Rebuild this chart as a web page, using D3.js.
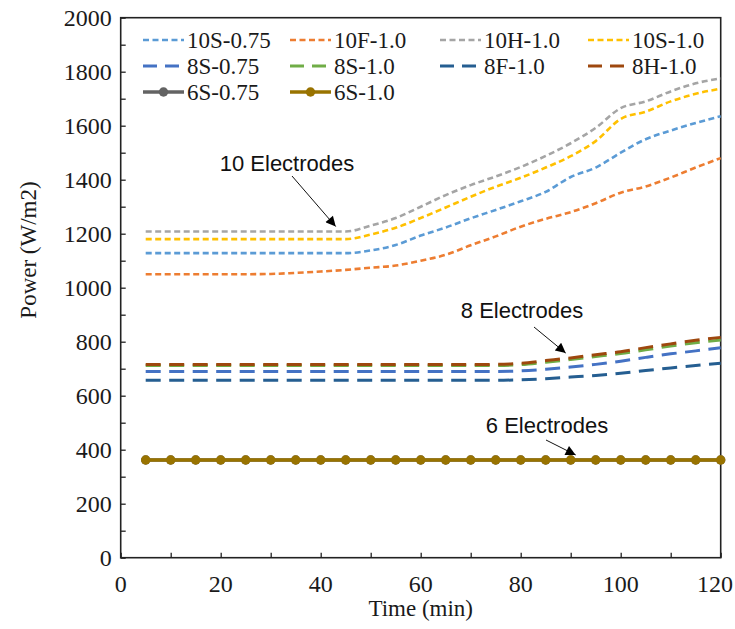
<!DOCTYPE html>
<html><head><meta charset="utf-8">
<script src="https://cdn.jsdelivr.net/npm/d3@7"></script>
<style>body{margin:0;background:#fff;} svg{display:block;}</style>
</head><body>
<svg id="chart" width="735" height="629"></svg>
<script>
const times = [5,10,15,20,25,30,35,40,45,50,55,60,65,70,75,80,85,90,95,100,105,110,115,120];
const s10S075 = [1128,1128,1128,1128,1128,1128,1128,1128,1128,1138,1158,1193,1223,1257,1288,1320,1355,1410,1445,1500,1550,1582,1610,1635];
const s10F10  = [1050,1050,1050,1050,1050,1051,1055,1060,1066,1074,1082,1100,1122,1157,1190,1226,1255,1280,1313,1352,1375,1408,1445,1480];
const s10H10  = [1208,1208,1208,1208,1208,1208,1208,1208,1208,1230,1258,1300,1343,1380,1412,1447,1488,1535,1592,1665,1690,1727,1757,1775];
const s10S10  = [1180,1180,1180,1180,1180,1180,1180,1180,1180,1197,1222,1258,1297,1337,1374,1407,1445,1487,1543,1625,1652,1690,1718,1737];
const s8S075  = [690,690,690,690,690,690,690,690,690,690,690,690,690,690,690,692,698,706,716,728,742,755,766,778];
const s8S10   = [712,712,712,712,712,712,712,712,712,712,712,712,712,712,712,715,724,734,745,756,770,784,796,806];
const s8F10   = [657,657,657,657,657,657,657,657,657,657,657,657,657,657,657,659,663,669,675,683,693,703,712,720];
const s8H10   = [716,716,716,716,716,716,716,716,716,716,716,716,716,716,716,720,730,740,752,763,778,792,805,816];
const s6S075  = [362,362,362,362,362,362,362,362,362,362,362,362,362,362,362,362,362,362,362,362,362,362,362,362];
const s6S10   = [362,362,362,362,362,362,362,362,362,362,362,362,362,362,362,362,362,362,362,362,362,362,362,362];
const seriesNames = ["10S-0.75","10F-1.0","10H-1.0","10S-1.0","8S-0.75","8S-1.0","8F-1.0","8H-1.0","6S-0.75","6S-1.0"];
const xTicks = [0,20,40,60,80,100,120];
const yTicks = [0,200,400,600,800,1000,1200,1400,1600,1800,2000];
const annotations = [
  {text:"10 Electrodes", t:43, v:1208},
  {text:"8 Electrodes", t:89, v:743},
  {text:"6 Electrodes", t:91, v:362}
];

const seriesData = [s10S075,s10F10,s10H10,s10S10,s8S075,s8S10,s8F10,s8H10,s6S075,s6S10];
const colors = ["#5B9BD5","#ED7D31","#A5A5A5","#FFC000","#4472C4","#70AD47","#255E91","#9E480E","#636363","#997300"];
const styles = ["short","short","short","short","long","long","long","long","marker","marker"];

const svg = d3.select("#chart");
const m = {l:120.7, t:17.7, w:600, h:540};
const x = d3.scaleLinear().domain([0,120]).range([m.l, m.l+m.w]);
const y = d3.scaleLinear().domain([0,2000]).range([m.t+m.h, m.t]);

const defs = svg.append("defs");
defs.append("marker").attr("id","arrow").attr("viewBox","0 0 10 10").attr("refX",10).attr("refY",5)
  .attr("markerWidth",12).attr("markerHeight",10).attr("markerUnits","userSpaceOnUse").attr("orient","auto")
  .append("path").attr("d","M0,0 L10,5 L0,10 z").attr("fill","#000");

// axes
const serif = "'Liberation Serif','Times New Roman',serif";
const xAxis = d3.axisBottom(x).tickValues(d3.range(0,121,10)).tickSize(-5).tickFormat("");
const yAxis = d3.axisLeft(y).tickValues(d3.range(0,2001,100)).tickSize(-5).tickFormat("");
const gx = svg.append("g").attr("transform",`translate(0,${m.t+m.h})`).call(xAxis);
const gy = svg.append("g").attr("transform",`translate(${m.l},0)`).call(yAxis);
[gx,gy].forEach(g=>{ g.select(".domain").remove(); g.selectAll("line").attr("stroke","#222").attr("stroke-width",1.3); });
// frame
svg.append("rect").attr("x",m.l).attr("y",m.t).attr("width",m.w).attr("height",m.h)
  .attr("fill","none").attr("stroke","#222").attr("stroke-width",1.6);

svg.append("g").selectAll("text").data(xTicks).join("text")
  .attr("x",d=>Math.min(x(d),715)).attr("y",m.t+m.h+34).attr("text-anchor","middle")
  .attr("font-family",serif).attr("font-size",24).attr("fill","#1a1a1a").text(d=>d);
svg.append("g").selectAll("text").data(yTicks).join("text")
  .attr("x",m.l-9).attr("y",d=>y(d)+8).attr("text-anchor","end")
  .attr("font-family",serif).attr("font-size",24).attr("fill","#1a1a1a").text(d=>d);

svg.append("text").attr("x",m.l+m.w/2).attr("y",616).attr("text-anchor","middle")
  .attr("font-family",serif).attr("font-size",23).attr("fill","#1a1a1a").text("Time (min)");
svg.append("text").attr("transform",`translate(36,250) rotate(-90)`).attr("text-anchor","middle")
  .attr("font-family",serif).attr("font-size",23).attr("fill","#1a1a1a").text("Power (W/m2)");

// lines
const line = d3.line().x((d,i)=>x(times[i])).y(d=>y(d)).curve(d3.curveMonotoneX);
const plot = svg.append("g");
const order = [1,0,3,2,6,4,5,7,8,9];
order.forEach(i=>{
  const st = styles[i];
  const p = plot.append("path").datum(seriesData[i]).attr("d",line).attr("fill","none")
    .attr("stroke",colors[i]);
  if(st==="short") p.attr("stroke-width",2.6).attr("stroke-dasharray","6,3.5");
  else if(st==="long") p.attr("stroke-width",3).attr("stroke-dasharray","15,8.5");
  else {
    p.attr("stroke-width",3.4);
    plot.append("g").selectAll("circle").data(seriesData[i]).join("circle")
      .attr("cx",(d,j)=>x(times[j])).attr("cy",d=>y(d)).attr("r",4.7).attr("fill",colors[i]);
  }
});

// annotations
const sans = "'Liberation Sans',Arial,sans-serif";
const annLayout = [{tx:287,ty:171,x1:292,y1:176,dx:0,dy:-5},{tx:522,ty:318,x1:534,y1:327,dx:0,dy:-4},{tx:547,ty:433,x1:546,y1:440,dx:0,dy:-5}];
annotations.forEach((a,i)=>{
  const L = annLayout[i];
  svg.append("text").attr("x",L.tx).attr("y",L.ty).attr("text-anchor","middle")
    .attr("font-family",sans).attr("font-size",22).attr("fill","#111").text(a.text);
  svg.append("line").attr("x1",L.x1).attr("y1",L.y1).attr("x2",x(a.t)+L.dx).attr("y2",y(a.v)+L.dy)
    .attr("stroke","#111").attr("stroke-width",1).attr("marker-end","url(#arrow)");
});

// legend
const colX = [143,290,440,588];
const rowY = [40,66,92];
const lg = svg.append("g");
seriesNames.forEach((n,i)=>{
  const cx = colX[i%4], cy = rowY[Math.floor(i/4)];
  const st = styles[i];
  const l = lg.append("line").attr("x1",cx).attr("x2",cx+41).attr("y1",cy).attr("y2",cy).attr("stroke",colors[i]);
  if(st==="short") l.attr("stroke-width",2.6).attr("stroke-dasharray","6,3.5");
  else if(st==="long") l.attr("stroke-width",3).attr("stroke-dasharray","14,8");
  else { l.attr("stroke-width",3.4); lg.append("circle").attr("cx",cx+20.5).attr("cy",cy).attr("r",4.7).attr("fill",colors[i]); }
  lg.append("text").attr("x",cx+44).attr("y",cy+8).attr("font-family",serif).attr("font-size",23)
    .attr("fill","#1a1a1a").text(n);
});
</script>
</body></html>
